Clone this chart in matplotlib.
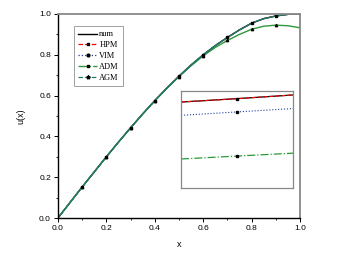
import numpy as np
import matplotlib.pyplot as plt
from matplotlib.ticker import MultipleLocator

# main curves
x = [0.0, 0.05, 0.1, 0.15, 0.2, 0.25, 0.3, 0.35, 0.4, 0.45, 0.5,
     0.55, 0.6, 0.65, 0.7, 0.75, 0.8, 0.85, 0.9, 0.95, 1.0]
u_exact = [0.0, 0.076, 0.152, 0.226, 0.300, 0.372, 0.442, 0.510, 0.575,
           0.637, 0.695, 0.750, 0.800, 0.845, 0.885, 0.922, 0.955, 0.977,
           0.990, 0.998, 1.000]
u_adm = [0.0, 0.076, 0.152, 0.226, 0.300, 0.372, 0.442, 0.510, 0.575,
         0.636, 0.693, 0.746, 0.795, 0.836, 0.870, 0.900, 0.925, 0.940,
         0.945, 0.942, 0.932]
x_mark = [0.1, 0.2, 0.3, 0.4, 0.5, 0.6, 0.7, 0.8, 0.9]
u_mark = [0.152, 0.300, 0.442, 0.575, 0.695, 0.800, 0.885, 0.955, 0.990]
u_mark_adm = [0.152, 0.300, 0.442, 0.575, 0.693, 0.795, 0.870, 0.925, 0.945]

# zoomed view
x_zoom = [0.495, 0.5, 0.505]
z_num = [0.887, 0.922, 0.960]
z_hpm = [0.887, 0.922, 0.960]
z_vim = [0.750, 0.785, 0.820]
z_adm = [0.300, 0.330, 0.360]

plt.rcParams["font.family"] = ["Liberation Sans", "DejaVu Sans"]

fig = plt.figure(figsize=(3.49, 2.58), dpi=100)
ax = fig.add_axes([0.166, 0.155, 0.694, 0.791])

ax.plot(x, u_exact, color="black", lw=1.0, label="num")
ax.plot(x, u_exact, color="red", lw=0.8, ls="--", label="HPM")
ax.plot(x, u_exact, color="#1f3fa0", lw=0.8, ls=":", label="VIM")
ax.plot(x, u_adm, color="#2a9a3a", lw=1.0, ls="-", label="ADM")
ax.plot(x, u_exact, color="#1f7a6a", lw=1.0, ls="-", label="AGM")
ax.plot(x_mark, u_mark, ls="none", marker="s", ms=1.7, color="black")
ax.plot(x_mark, u_mark_adm, ls="none", marker="^", ms=1.7, color="black")

ax.set_xlim(0, 1)
ax.set_ylim(0, 1)
ax.xaxis.set_major_locator(MultipleLocator(0.2))
ax.xaxis.set_minor_locator(MultipleLocator(0.1))
ax.yaxis.set_major_locator(MultipleLocator(0.2))
ax.yaxis.set_minor_locator(MultipleLocator(0.1))
ax.tick_params(labelsize=6, length=3, width=0.7, pad=2)
ax.tick_params(which="minor", length=1.5, width=0.6)
for s in ["top", "right"]:
    ax.spines[s].set_color("#888888")
    ax.spines[s].set_linewidth(1.3)
for s in ["left", "bottom"]:
    ax.spines[s].set_linewidth(1.0)
ax.set_xlabel("x", fontsize=6.5, labelpad=6)
ax.set_ylabel("u(x)", fontsize=6.5, labelpad=10)

# legend handles styled as in the figure
h = [
    plt.Line2D([], [], color="black", lw=1.0),
    plt.Line2D([], [], color="red", lw=0.9, ls="--", marker="s", ms=2,
               mfc="black", mec="black"),
    plt.Line2D([], [], color="#1f3fa0", lw=0.9, ls=":", marker="o", ms=2,
               mfc="black", mec="black"),
    plt.Line2D([], [], color="#2a9a3a", lw=1.0, ls="-.", marker="s", ms=2,
               mfc="black", mec="black"),
    plt.Line2D([], [], color="#1f7a6a", lw=0.9, ls="--", marker="*", ms=2.8,
               mfc="black", mec="black"),
]
leg = ax.legend(h, ["num", "HPM", "VIM", "ADM", "AGM"], loc="upper left",
                bbox_to_anchor=(0.05, 0.96), fancybox=False,
                prop={"family": "Liberation Serif", "size": 6},
                handlelength=2.2, handletextpad=0.3, labelspacing=0.35,
                borderpad=0.5)
leg.get_frame().set_edgecolor("#888888")
leg.get_frame().set_linewidth(0.7)

ins = fig.add_axes([0.519, 0.271, 0.321, 0.376])
ins.plot(x_zoom, z_num, color="black", lw=0.9)
ins.plot(x_zoom, z_hpm, color="red", lw=0.8, ls="--")
ins.plot(x_zoom, z_vim, color="#1f3fa0", lw=0.8, ls=":")
ins.plot(x_zoom, z_adm, color="#2a9a3a", lw=0.9, ls="-.")
ins.plot([x_zoom[1]] * 3, [z_num[1], z_vim[1], z_adm[1]], ls="none",
         marker="s", ms=1.8, color="black")
ins.set_xlim(x_zoom[0], x_zoom[-1])
ins.set_ylim(0, 1)
ins.set_xticks([])
ins.set_yticks([])
for s in ins.spines.values():
    s.set_color("#888888")
    s.set_linewidth(0.9)

fig.savefig("out.png", dpi=100)
